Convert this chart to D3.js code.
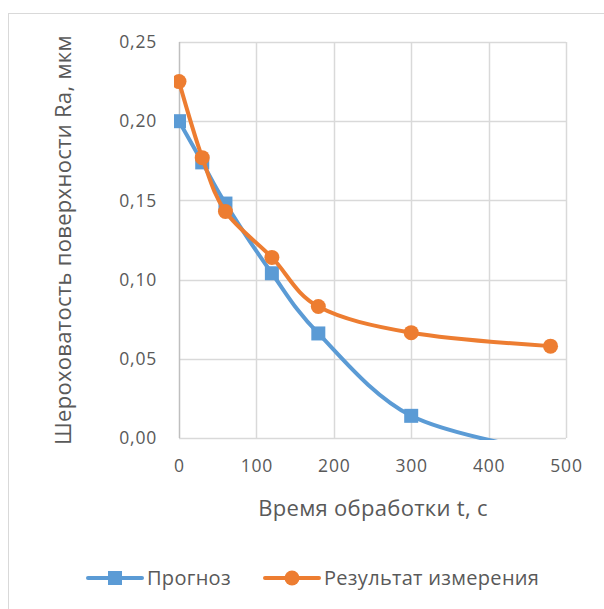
<!DOCTYPE html>
<html>
<head>
<meta charset="utf-8">
<script src="https://cdn.jsdelivr.net/npm/d3@7"></script>
<style>
  body { margin: 0; background: #fff; }
  text { font-family: "Open Sans", sans-serif; fill: #595959; }
</style>
</head>
<body>
<div id="chart"></div>
<script>
// data
var times = [0, 30, 60, 120, 180, 300, 480];
var forecast = [0.200, 0.174, 0.148, 0.104, 0.066, 0.014, -0.009];
var measured = [0.225, 0.177, 0.143, 0.114, 0.083, 0.0665, 0.058];
var xTicks = [0, 100, 200, 300, 400, 500];
var yTicks = [0, 0.05, 0.10, 0.15, 0.20, 0.25];
var seriesNames = ["Прогноз", "Результат измерения"];

var svgWidth = 604;
var svgHeight = 609;

var margin = { top: 42, right: 38, bottom: 171, left: 179 };
var width = svgWidth - margin.left - margin.right;
var height = svgHeight - margin.top - margin.bottom;

var svg = d3.select("#chart")
  .append("svg")
  .attr("width", svgWidth)
  .attr("height", svgHeight);

// outer chart border
svg.append("rect")
  .attr("x", 8.5).attr("y", 13.5)
  .attr("width", 620).attr("height", 620)
  .attr("fill", "none")
  .attr("stroke", "#d9d9d9");

var chartGroup = svg.append("g")
  .attr("transform", `translate(${margin.left}, ${margin.top})`);

var xScale = d3.scaleLinear().domain([0, 500]).range([0, width]);
var yScale = d3.scaleLinear().domain([0, 0.25]).range([height, 0]);

// gridlines
chartGroup.append("g")
  .selectAll("line.h")
  .data(yTicks)
  .enter().append("line")
  .attr("x1", 0).attr("x2", width)
  .attr("y1", d => Math.round(yScale(d)) + 0.5)
  .attr("y2", d => Math.round(yScale(d)) + 0.5)
  .attr("stroke", "#d9d9d9").attr("stroke-width", 1.5);

chartGroup.append("g")
  .selectAll("line.v")
  .data(xTicks)
  .enter().append("line")
  .attr("y1", 0).attr("y2", height)
  .attr("x1", d => Math.round(xScale(d)) + 0.5)
  .attr("x2", d => Math.round(xScale(d)) + 0.5)
  .attr("stroke", d => d === 0 ? "#bfbfbf" : "#d9d9d9").attr("stroke-width", 1.5);

// axes (labels only)
var fmt = d => d.toFixed(2).replace(".", ",");
var leftAxis = d3.axisLeft(yScale).tickValues(yTicks).tickFormat(fmt).tickSize(0).tickPadding(22);
var bottomAxis = d3.axisBottom(xScale).tickValues(xTicks).tickFormat(d3.format("d")).tickSize(0).tickPadding(22);

function styleTicks(sel) {
  sel.attr("font-size", 17.5)
    .style("font-family", "'Open Sans', sans-serif")
    .style("letter-spacing", "0.8px")
    .attr("fill", "#595959");
}

chartGroup.append("g").call(leftAxis)
  .call(g => g.select(".domain").remove())
  .selectAll("text").call(styleTicks);

chartGroup.append("g")
  .attr("transform", `translate(0, ${height})`)
  .call(bottomAxis)
  .call(g => g.select(".domain").remove())
  .selectAll("text").call(styleTicks);

// clip lines to the plot area
svg.append("clipPath").attr("id", "plotclip")
  .append("rect").attr("x", -5).attr("y", -5).attr("width", width + 10).attr("height", height + 7);

var blue = "#5b9bd5";
var orange = "#ed7d31";

var line = d3.line()
  .x(d => xScale(d[0]))
  .y(d => yScale(d[1]))
  .curve(d3.curveCardinal.tension(0));

var fData = times.map((t, i) => [t, forecast[i]]);
var mData = times.map((t, i) => [t, measured[i]]);

var plot = chartGroup.append("g").attr("clip-path", "url(#plotclip)");

plot.append("path").datum(fData)
  .attr("d", line).attr("fill", "none")
  .attr("stroke", blue).attr("stroke-width", 4).attr("stroke-linecap", "round");

plot.selectAll("rect.sq").data(fData.filter(d => d[1] >= 0))
  .enter().append("rect")
  .attr("x", d => xScale(d[0]) - 7).attr("y", d => yScale(d[1]) - 7)
  .attr("width", 14).attr("height", 14)
  .attr("fill", blue);

plot.append("path").datum(mData)
  .attr("d", line).attr("fill", "none")
  .attr("stroke", orange).attr("stroke-width", 4).attr("stroke-linecap", "round");

plot.selectAll("circle.dot").data(mData)
  .enter().append("circle")
  .attr("cx", d => xScale(d[0])).attr("cy", d => yScale(d[1]))
  .attr("r", 7.5)
  .attr("fill", orange);

// axis titles
svg.append("text")
  .attr("transform", `translate(71, ${margin.top + height / 2}) rotate(-90)`)
  .attr("text-anchor", "middle")
  .attr("font-size", 22)
  .style("letter-spacing", "0.3px")
  .text("Шероховатость поверхности Ra, мкм");

svg.append("text")
  .attr("x", 373).attr("y", 516)
  .attr("text-anchor", "middle")
  .attr("font-size", 22)
  .style("letter-spacing", "0.3px")
  .text("Время обработки t, с");

// legend
var legendItems = [
  { name: seriesNames[0], color: blue, shape: "square", x: 88 },
  { name: seriesNames[1], color: orange, shape: "circle", x: 265 }
];
var legend = svg.append("g").attr("transform", "translate(0, 578)");
legendItems.forEach(function(it) {
  var g = legend.append("g").attr("transform", `translate(${it.x}, 0)`);
  g.append("line").attr("x1", 0).attr("x2", 54).attr("y1", 0).attr("y2", 0)
    .attr("stroke", it.color).attr("stroke-width", 4).attr("stroke-linecap", "round");
  if (it.shape === "square") {
    g.append("rect").attr("x", 20).attr("y", -7).attr("width", 14).attr("height", 14).attr("fill", it.color);
  } else {
    g.append("circle").attr("cx", 27).attr("cy", 0).attr("r", 7.5).attr("fill", it.color);
  }
  g.append("text").attr("x", 59).attr("y", 7).attr("font-size", 20)
    .style("letter-spacing", "0.3px").text(it.name);
});
</script>
</body>
</html>
